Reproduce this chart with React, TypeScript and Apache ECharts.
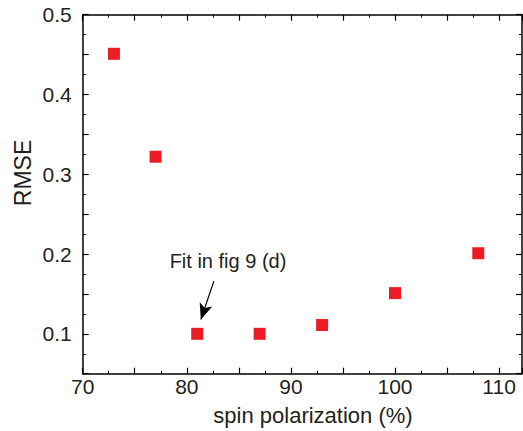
import React, { useEffect, useRef } from "react";
import * as echarts from "echarts";

const polarization = [73, 77, 81, 87, 93, 100, 108];
const rmse = [0.451, 0.322, 0.1, 0.1, 0.111, 0.151, 0.201];
const arrowStart = [82.6, 0.166];
const arrowEnd = [81.35, 0.118];
const annotationText = "Fit in fig 9 (d)";
const xName = "spin polarization (%)";
const yName = "RMSE";

const FONT = "Liberation Sans, Arial, Helvetica, sans-serif";
const TXT = "#231f20";
const RED = "#ed1c24";

export default function App() {
  const ref = useRef<HTMLDivElement>(null);
  useEffect(() => {
    if (!ref.current) return;
    const chart = echarts.init(ref.current, null, { renderer: "svg" });
    const axisLine = { show: true, onZero: false, lineStyle: { color: "#000", width: 1.5 } };
    const tick = { show: true, inside: true, length: 6, lineStyle: { color: "#000", width: 1.2 } };
    const minor = { show: true, splitNumber: 2, length: 3, lineStyle: { color: "#000", width: 1 } };
    const xBase = {
      type: "value",
      min: 70,
      max: 112.2,
      interval: 5,
      axisLine,
      axisTick: tick,
      minorTick: minor,
      splitLine: { show: false },
      minorSplitLine: { show: false },
    };
    const yBase = {
      type: "value",
      min: 0.05,
      max: 0.5,
      interval: 0.05,
      axisLine,
      axisTick: tick,
      minorTick: minor,
      splitLine: { show: false },
      minorSplitLine: { show: false },
    };
    const data = polarization.map((x, i) => [x, rmse[i]]);
    chart.setOption({
      animation: false,
      backgroundColor: "#fff",
      grid: { left: 82.7, top: 14.7, right: 1, bottom: 57.3, containLabel: false },
      xAxis: [
        {
          ...xBase,
          position: "bottom",
          axisLabel: {
            show: true,
            margin: 2,
            fontSize: 21,
            fontFamily: FONT,
            color: TXT,
            showMaxLabel: false,
            formatter: (v: number) => (Math.round(v) % 10 === 0 && Math.abs(v - Math.round(v)) < 1e-6 ? String(Math.round(v)) : ""),
          },
        },
        { ...xBase, position: "top", axisLabel: { show: false } },
      ],
      yAxis: [
        {
          ...yBase,
          position: "left",
          axisLabel: {
            show: true,
            margin: 11,
            fontSize: 21,
            fontFamily: FONT,
            color: TXT,
            formatter: (v: number) => {
              const k = Math.round(v * 100);
              return k % 10 === 0 ? (v).toFixed(1) : "";
            },
          },
        },
        { ...yBase, position: "right", axisLabel: { show: false } },
      ],
      series: [
        {
          type: "scatter",
          data,
          symbol: "rect",
          symbolSize: 12,
          itemStyle: { color: RED, opacity: 1 },
          markLine: {
            silent: true,
            animation: false,
            symbol: ["none", "arrow"],
            symbolSize: [10, 16],
            label: { show: false },
            lineStyle: { color: "#000", width: 1.2, type: "solid" },
            data: [[{ coord: arrowStart }, { coord: arrowEnd }]],
          },
        },
      ],
      graphic: [
        {
          type: "text",
          x: 228,
          y: 261,
          style: {
            text: annotationText,
            fontSize: 20,
            fontFamily: FONT,
            fill: TXT,
            align: "center",
            verticalAlign: "middle",
          },
        },
        {
          type: "text",
          x: 313,
          y: 415,
          style: {
            text: xName,
            fontSize: 22,
            fontFamily: FONT,
            fill: TXT,
            align: "center",
            verticalAlign: "middle",
          },
        },
        {
          type: "text",
          x: 23,
          y: 173,
          rotation: Math.PI / 2,
          style: {
            text: yName,
            fontSize: 23,
            fontFamily: FONT,
            fill: TXT,
            align: "center",
            verticalAlign: "middle",
          },
        },
      ],
    });
    return () => chart.dispose();
  }, []);
  return <div ref={ref} style={{ position: "fixed", left: 0, top: 0, width: 523, height: 431 }} />;
}
